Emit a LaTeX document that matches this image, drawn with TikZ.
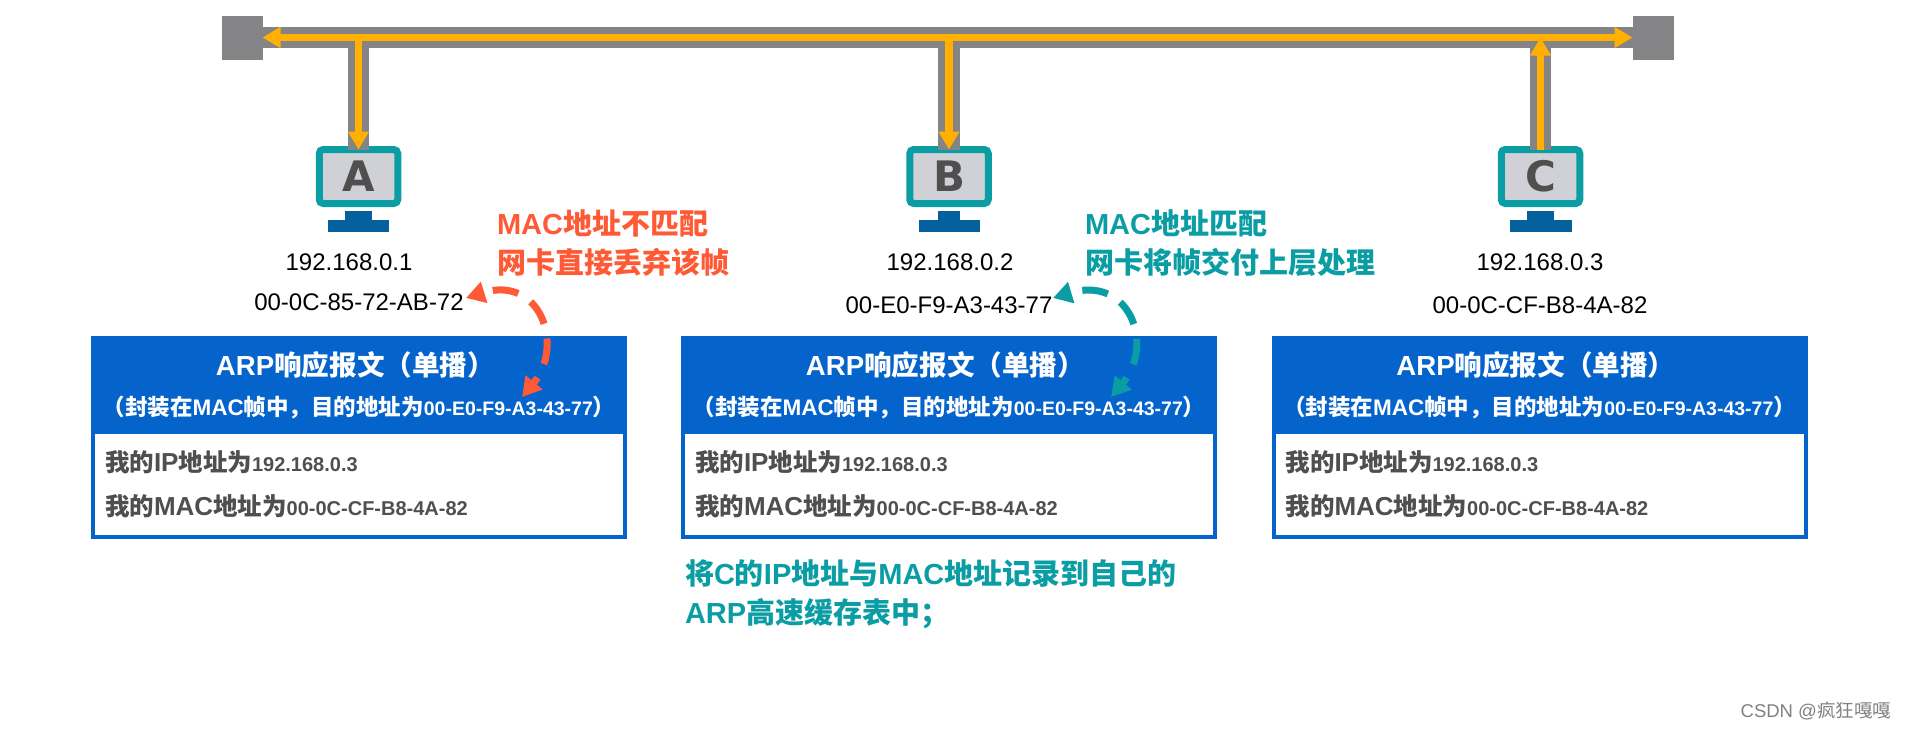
\documentclass[tikz,border=0pt]{standalone}
\usepackage{fontspec}
\setmainfont{Liberation Sans}
\newfontfamily\cjk{Noto Sans CJK SC}
\newfontfamily\heavy{DejaVu Sans}
\usetikzlibrary{arrows.meta,positioning}

\definecolor{busgray}{HTML}{848487}
\definecolor{sigorange}{HTML}{FFB000}
\definecolor{monteal}{HTML}{0A9DA3}
\definecolor{screengray}{HTML}{D0D1D6}
\definecolor{standblue}{HTML}{05609E}
\definecolor{boxblue}{HTML}{0563CC}
\definecolor{dropred}{HTML}{FF5A36}
\definecolor{bodygray}{HTML}{4F4F4F}

\newcommand{\zh}[1]{{\cjk #1}}
\newcommand{\fs}[1]{\fontsize{#1pt}{#1pt}\selectfont}
\newcommand{\rowhex}[1]{{\fs{20}#1}}
\newcommand{\rowlat}[1]{{\fs{26}#1}}

\begin{document}
\begin{tikzpicture}[
    x=1pt, y=-1pt,
    node distance=0pt,
    every node/.style={inner sep=0pt, outer sep=0pt},
    terminal/.style={rectangle, fill=busgray, minimum width=41pt, minimum height=44pt},
    busline/.style={draw=busgray, line width=21.5pt},
    signal/.style={draw=sigorange, line width=7.5pt},
    monitor/.style={rectangle, draw=monteal, fill=screengray, line width=7pt, rounded corners=4pt, minimum width=78.5pt, minimum height=54pt, text=bodygray, font=\heavy\fs{42}\bfseries},
    neck/.style={rectangle, fill=standblue, minimum height=9pt},
    foot/.style={rectangle, fill=standblue, minimum height=12pt},
    addr/.style={font=\fs{24}, text=black},
    header/.style={rectangle, fill=boxblue, text=white, minimum width=536pt, minimum height=98pt, align=center, font=\bfseries},
    body/.style={rectangle, draw=boxblue, fill=white, line width=4pt, minimum width=532pt, minimum height=105pt, text width=508pt, align=left, text=bodygray, font=\bfseries},
    note/.style={align=left, font=\fs{29}\bfseries},
    verdict/.style={line width=7pt, dash pattern=on 26pt off 15pt, dash phase=19pt, {Triangle[length=19pt,width=21pt]}-{Triangle[length=19pt,width=21pt]}}
]
    \useasboundingbox (0,0) rectangle (1907,731);

    % cable
    \node[terminal] (termL) at (242,37.5) {};
    \node[terminal] (termR) at (1653,37.5) {};
    \draw[busline] (termL) -- (termR);

    % stations
    \node[monitor] (monA) at (358.5,176.5) {A};
    \node[monitor] (monB) at (949,176.5) {B};
    \node[monitor] (monC) at (1540.5,176.5) {C};
    \node[neck, minimum width=27pt, below=7.5pt of monA] (neckA) {};
    \node[foot, minimum width=61pt, below=0pt of neckA] (footA) {};
    \node[neck, minimum width=22pt, below=7.5pt of monB] (neckB) {};
    \node[foot, minimum width=61pt, below=0pt of neckB] (footB) {};
    \node[neck, minimum width=27pt, below=7.5pt of monC] (neckC) {};
    \node[foot, minimum width=62pt, below=0pt of neckC] (footC) {};

    % drops
    \draw[busline] (monA.north |- termL) -- (monA.north);
    \draw[busline] (monB.north |- termL) -- (monB.north);
    \draw[busline] (monC.north |- termL) -- (monC.north);
    \draw[signal, {Triangle[length=18pt,width=20pt]}-{Triangle[length=18pt,width=20pt]}] (termL.east) -- (termR.west);
    \draw[signal, -{Triangle[length=18pt,width=20pt]}] (monA.north |- termL) -- (monA.north);
    \draw[signal, -{Triangle[length=18pt,width=20pt]}] (monB.north |- termL) -- (monB.north);
    \draw[signal, -{Triangle[length=18pt,width=20pt]}] (monC.north) -- (monC.north |- termL);

    % addresses
    \node[addr] (ipA) at (349,262) {192.168.0.1};
    \node[addr] (macA) at (359,302) {00-0C-85-72-AB-72};
    \node[addr] (ipB) at (950,262) {192.168.0.2};
    \node[addr] (macB) at (949,305) {00-E0-F9-A3-43-77};
    \node[addr] (ipC) at (1540,262) {192.168.0.3};
    \node[addr] (macC) at (1540,305) {00-0C-CF-B8-4A-82};

    % frames
    \foreach \name/\xc in {A/359,B/949,C/1539.5} {
        \node[header] (head\name) at (\xc,385) {\fs{27.6}ARP\zh{响应报文（单播）}\hspace*{7pt}\\[17pt]
            \fs{22.5}\zh{（封装在}MAC\zh{帧中，目的地址为}{\fs{19.5}00-E0-F9-A3-43-77}\zh{）}};
        \node[body, below=-2pt of head\name] (body\name) {\fs{24.5}\zh{我的}\rowlat{IP}\zh{地址为}\rowhex{192.168.0.3}\\[20pt]
            \fs{24.5}\zh{我的}\rowlat{MAC}\zh{地址为}\rowhex{00-0C-CF-B8-4A-82}};
    }

    % annotations
    \node[note, text=dropred, anchor=west] (noteA) at (497,243) {MAC\zh{地址不匹配}\\[10pt]\zh{网卡直接丢弃该帧}};
    \node[note, text=monteal, anchor=west] (noteB) at (1085,243) {MAC\zh{地址匹配}\\[10pt]\zh{网卡将帧交付上层处理}};
    \node[note, text=monteal, anchor=west] (noteC) at (685,594) {\zh{将}C\zh{的}IP\zh{地址与}MAC\zh{地址记录到自己的}\\[10pt]ARP\zh{高速缓存表中；}};

    \coordinate (dropTo) at (466,298);
    \coordinate (dropFrom) at (522,397);
    \coordinate (keepTo) at (1053,298);
    \coordinate (keepFrom) at (1111,397);
    \draw[verdict, draw=dropred] (dropFrom) .. controls (565,345) and (540,275) .. (dropTo);
    \draw[verdict, draw=monteal] (keepFrom) .. controls (1155,345) and (1130,275) .. (keepTo);

    % watermark
    \node[text=black!50, font=\fs{18.5}, anchor=east] (mark) at (1891,711) {CSDN @\zh{疯狂嘎嘎}};
\end{tikzpicture}
\end{document}
